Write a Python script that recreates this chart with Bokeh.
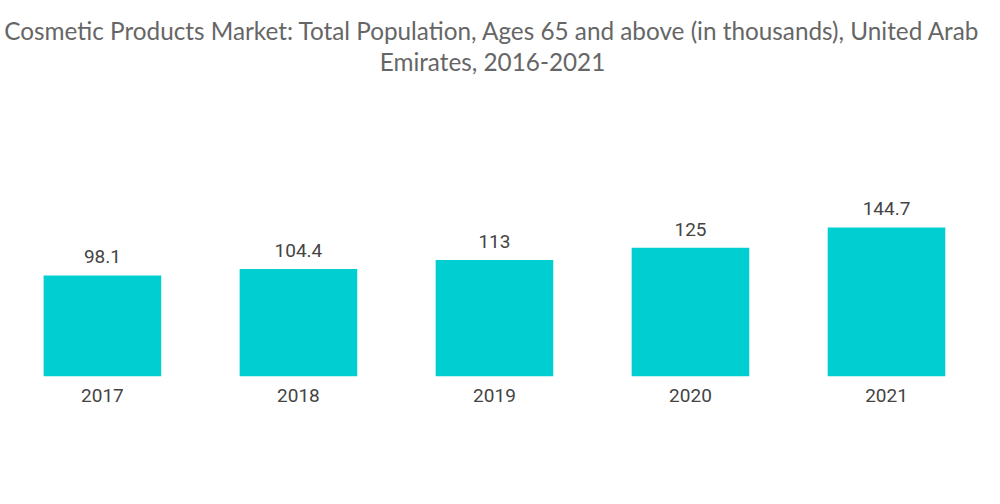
from bokeh.plotting import figure
from bokeh.models import ColumnDataSource, LabelSet, FixedTicker, Range1d, Title
from bokeh.core.properties import value
from bokeh.embed import file_html
from bokeh.resources import INLINE

years = ["2017", "2018", "2019", "2020", "2021"]
values = [98.1, 104.4, 113, 125, 144.7]
value_labels = ["98.1", "104.4", "113", "125", "144.7"]
title_lines = ["Cosmetic Products Market: Total Population, Ages 65 and above (in thousands), United Arab",
               "Emirates, 2016-2021"]
idx = list(range(len(years)))

src = ColumnDataSource(dict(x=idx, top=values, lab=value_labels))

p = figure(width=984, height=496, output_backend="svg", toolbar_location=None,
           x_range=Range1d(-0.52, 4.5), y_range=Range1d(0, 292.2),
           min_border_left=0, min_border_right=0, min_border_top=75, min_border_bottom=120,
           title=title_lines[0])
p.title.align = "center"
p.title.text_font = "Lato"
p.title.text_font_size = "24.3px"
p.title.text_font_style = "normal"
p.title.text_color = "#666666"
p.title.standoff = 0
p.add_layout(Title(text=title_lines[1], align="center", text_font="Lato", text_font_size="24.3px",
                   text_font_style="normal", text_color="#666666", standoff=0), "above")

p.vbar(x="x", top="top", width=0.6, bottom=0, source=src, color="#00CED1", line_color=None)
p.add_layout(LabelSet(x="x", y="top", text="lab", source=src, text_align="center",
                      text_baseline="bottom", y_offset=12, text_font=value("Roboto"),
                      text_font_size=value("19px"), text_color="#444444"))

p.xaxis.ticker = FixedTicker(ticks=idx)
p.xaxis.major_label_overrides = {i: y for i, y in zip(idx, years)}
p.xaxis.axis_line_color = None
p.xaxis.major_tick_line_color = None
p.xaxis.minor_tick_line_color = None
p.xaxis.major_label_text_font = "Roboto"
p.xaxis.major_label_text_font_size = "19px"
p.xaxis.major_label_text_color = "#444444"
p.xaxis.major_label_standoff = 6
p.yaxis.visible = False
p.xgrid.visible = False
p.ygrid.visible = False
p.outline_line_color = None

open("out.html", "w").write(file_html(p, INLINE))
